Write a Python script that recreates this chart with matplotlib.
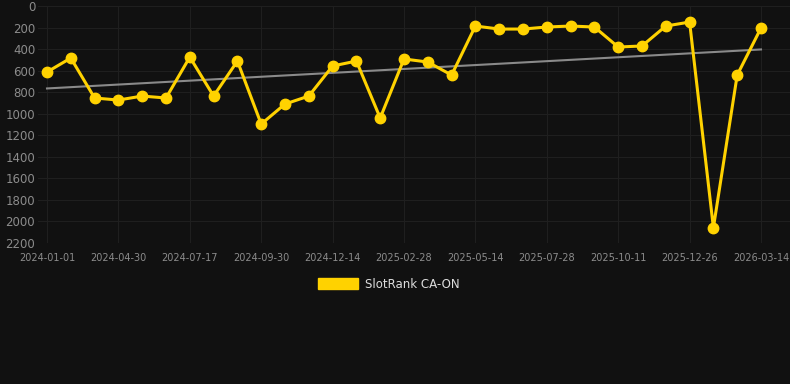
'''SlotRank CA-ON rank history'''

import numpy as np
import matplotlib
matplotlib.use('Agg')
import matplotlib.pyplot as plt

tick_labels = ['2024-01-01', '2024-04-30', '2024-07-17', '2024-09-30', '2024-12-14',
               '2025-02-28', '2025-05-14', '2025-07-28', '2025-10-11', '2025-12-26',
               '2026-03-14']
rank = [613, 483, 854, 873, 836, 854, 474, 836, 511, 1096,
        910, 836, 557, 511, 1040, 492, 520, 641, 186, 214,
        214, 195, 186, 195, 381, 371, 186, 149, 2058, 641,
        204]
series_name = 'SlotRank CA-ON'

bg = '#111111'
gold = '#FFD200'

x = np.arange(len(rank))
fit = np.polyfit(x, rank, 1)
trend = np.polyval(fit, x)

fig = plt.figure(figsize=(7.9, 3.84), dpi=100, facecolor=bg)
ax = fig.add_axes([38/790, 1-243/384, 752/790, 237/384], facecolor=bg)

ax.plot(x, trend, color='#8a8a8a', lw=1.5, zorder=2)
ax.plot(x, rank, color=gold, lw=2.2, marker='o', ms=7.5, zorder=3, label=series_name)

ax.set_ylim(2200, 0)
ax.set_xlim(-9/23.8, 30 + 29/23.8)
ax.set_yticks(np.arange(0, 2201, 200))
ax.set_xticks(x[::3])
ax.set_xticklabels(tick_labels)
ax.grid(True, color='#1f1f1f', lw=0.8)
ax.set_axisbelow(True)
for s in ax.spines.values():
    s.set_visible(False)
ax.tick_params(axis='y', length=0, pad=2, labelsize=8.5, labelcolor='#8c8c8c')
ax.tick_params(axis='x', length=0, pad=7, labelsize=7, labelcolor='#8c8c8c')

handle = plt.Rectangle((0, 0), 1, 1, color=gold)
fig.legend([handle], [series_name], loc='center', bbox_to_anchor=(389/790, 1-284/384),
           frameon=False, fontsize=8.5, labelcolor='#dddddd', handlelength=3.4,
           handleheight=1.1, handletextpad=0.6)

plt.savefig('out.png', facecolor=bg)
